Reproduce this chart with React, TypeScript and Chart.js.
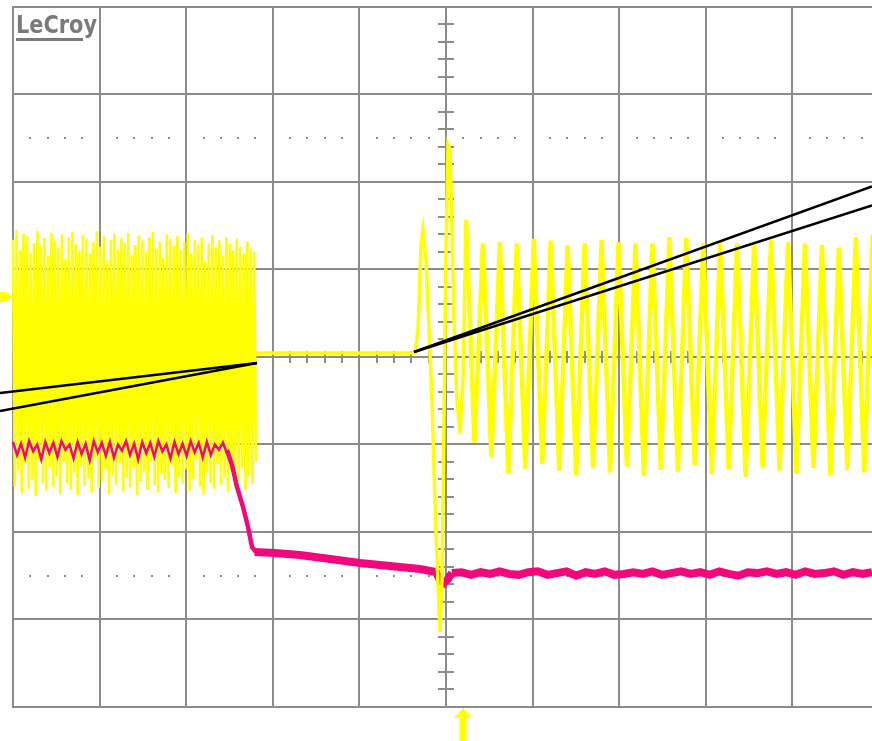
import { useEffect, useRef } from "react";
import { Chart, registerables } from "chart.js";

Chart.register(...registerables);

// ---- axis (divisions) ----
const X_MIN = -0.15;
const X_MAX = 9.919;
const Y_MIN = -4.389;
const Y_MAX = 4.08;
const X_DIVS = [0, 1, 2, 3, 4, 5, 6, 7, 8, 9, 10];
const Y_DIVS = [-4, -3, -2, -1, 0, 1, 2, 3, 4];
const CURSOR_LEVELS = [2.5, -2.5];
const TRIGGER_T = 5.196;
const CH1_MARKER = 0.686;

// ---- CH1 (yellow) before the gap: alternating sample peaks / troughs ----
const LEFT_T_END = 2.806;
const leftHi = [1.34, 1.45, 1.22, 1.41, 1.38, 1.19, 1.30, 1.44, 1.27, 1.36, 1.15, 1.42, 1.33, 1.25, 1.40, 1.12, 1.37, 1.43, 1.29, 1.21, 1.39, 1.35, 1.18, 1.31, 1.44, 1.26, 1.38, 1.10, 1.34, 1.41, 1.23, 1.36, 1.30, 1.42, 1.17, 1.28, 1.39, 1.33, 1.20, 1.37, 1.43, 1.24, 1.32, 1.14, 1.40, 1.35, 1.27, 1.38, 1.22, 1.31, 1.41, 1.19, 1.34, 1.28, 1.36, 1.09, 1.30, 1.39, 1.25, 1.33, 1.16, 1.37, 1.29, 1.21, 1.35, 1.26, 1.18, 1.32, 1.24, 1.20];
const leftLo = [-1.48, -1.30, -1.56, -1.22, -1.51, -1.40, -1.59, -1.18, -1.45, -1.53, -1.27, -1.49, -1.36, -1.57, -1.20, -1.44, -1.52, -1.33, -1.58, -1.25, -1.47, -1.39, -1.55, -1.16, -1.50, -1.42, -1.29, -1.57, -1.35, -1.46, -1.21, -1.54, -1.38, -1.49, -1.26, -1.58, -1.43, -1.31, -1.52, -1.19, -1.47, -1.55, -1.34, -1.41, -1.50, -1.24, -1.56, -1.37, -1.45, -1.28, -1.53, -1.40, -1.17, -1.48, -1.57, -1.32, -1.44, -1.51, -1.23, -1.46, -1.38, -1.54, -1.30, -1.49, -1.42, -1.27, -1.52, -1.36, -1.45, -1.20];

// ---- CH1 flat level and restart transient ----
const flatLevel = 0.046;
const flatEnd = 4.642;
const transientT = [4.677, 4.711, 4.734, 4.769, 4.804, 4.838, 4.861, 4.896, 4.931, 4.954, 4.977, 5.0, 5.023, 5.046, 5.069, 5.092, 5.127, 5.162, 5.196, 5.231];
const transientV = [0.309, 1.28, 1.451, 1.086, 0.309, -0.491, -1.291, -2.32, -3.143, -2.549, -0.72, 1.223, 2.423, 2.366, 1.451, 0.423, -0.491, -0.869, -0.263, 1.566];

// ---- CH1 ringing after the transient ----
const RING_T0 = 5.231;
const RING_PERIOD = 0.1957;
const ringTroughs = [-0.98, -1.15, -1.33, -1.28, -1.22, -1.30, -1.35, -1.27, -1.32, -1.25, -1.36, -1.29, -1.31, -1.24, -1.34, -1.28, -1.37, -1.26, -1.30, -1.33, -1.27, -1.35, -1.29, -1.32, -1.26];
const ringPeaks = [1.30, 1.31, 1.30, 1.35, 1.33, 1.28, 1.30, 1.34, 1.31, 1.30, 1.30, 1.37, 1.36, 1.30, 1.31, 1.30, 1.31, 1.34, 1.31, 1.30, 1.28, 1.25, 1.37, 1.40];

// ---- CH2 (pink) ----
const PINK_LEFT_END = 2.471;
const pinkLeft = [-0.97, -1.12, -0.99, -1.15, -0.96, -1.08, -1.0, -1.17, -0.97, -1.1, -0.98, -1.14, -0.96, -1.06, -1.0, -1.16, -0.97, -1.11, -0.99, -1.18, -0.96, -1.09, -0.98, -1.13, -0.97, -1.15, -1.0, -1.07, -0.96, -1.12, -0.99, -1.17, -0.97, -1.1, -0.98, -1.14, -0.96, -1.08, -1.0, -1.16, -0.97, -1.11, -0.99, -1.13, -0.96, -1.09, -0.98, -1.15, -0.97, -1.12, -1.0, -1.06, -0.98, -1.1];
const pinkDropT = [2.471, 2.529, 2.587, 2.656, 2.714, 2.76, 2.806];
const pinkDropV = [-1.063, -1.234, -1.486, -1.714, -1.943, -2.171, -2.229];
const pinkDecayT = [2.79, 3.025, 3.314, 3.661, 4.007, 4.353, 4.7, 4.885, 4.931, 4.977, 5.023, 5.069];
const pinkDecayV = [-2.229, -2.24, -2.263, -2.309, -2.354, -2.389, -2.423, -2.457, -2.549, -2.583, -2.537, -2.469];
const PINK_RIGHT_START = 5.069;
const pinkRight = [-2.47, -2.46, -2.49, -2.46, -2.48, -2.45, -2.48, -2.49, -2.46, -2.45, -2.49, -2.47, -2.45, -2.50, -2.46, -2.48, -2.45, -2.49, -2.48, -2.46, -2.48, -2.45, -2.49, -2.47, -2.45, -2.48, -2.46, -2.49, -2.45, -2.48, -2.50, -2.46, -2.47, -2.45, -2.48, -2.46, -2.49, -2.45, -2.48, -2.47, -2.45, -2.49, -2.46, -2.48, -2.46];

// ---- zoom marker lines (black) ----
const markLeftEnds = [-0.411, -0.617];
const markLeftJoin = { x: 2.818, y: -0.069 };
const markRightEnds = [1.949, 1.731];
const markRightJoin = { x: 4.63, y: 0.057 };

const YELLOW = "#ffff00";
const PINK = "#f2087c";
const GRID = "#8c8c8c";

type P = { x: number; y: number };

function buildYellowLeft(): P[] {
  const n = leftHi.length * 2 - 1;
  const dt = LEFT_T_END / n;
  const pts: P[] = [];
  for (let i = 0; i < leftHi.length; i++) {
    pts.push({ x: 2 * i * dt, y: leftHi[i] });
    pts.push({ x: (2 * i + 1) * dt, y: leftLo[i] });
  }
  return pts;
}

function buildYellowTransient(): P[] {
  const pts: P[] = [
    { x: LEFT_T_END, y: flatLevel },
    { x: flatEnd, y: flatLevel },
  ];
  transientT.forEach((t, i) => pts.push({ x: t, y: transientV[i] }));
  return pts;
}

function buildYellowRing(): P[] {
  const pts: P[] = [{ x: RING_T0, y: transientV[transientV.length - 1] }];
  for (let k = 0; k < ringTroughs.length; k++) {
    pts.push({ x: RING_T0 + RING_PERIOD * (k + 0.5), y: ringTroughs[k] });
    if (k < ringPeaks.length) pts.push({ x: RING_T0 + RING_PERIOD * (k + 1), y: ringPeaks[k] });
  }
  return pts;
}

function buildPinkLeft(): P[] {
  const dt = PINK_LEFT_END / (pinkLeft.length - 1);
  return pinkLeft.map((v, i) => ({ x: i * dt, y: v }));
}

function buildPinkRight(): P[] {
  const dt = (X_MAX - PINK_RIGHT_START) / (pinkRight.length - 1);
  return pinkRight.map((v, i) => ({ x: PINK_RIGHT_START + i * dt, y: v }));
}

const scopePlugin = {
  id: "scopeScreen",
  beforeDatasetsDraw(chart: any) {
    const { ctx } = chart;
    const xs = chart.scales.x;
    const ys = chart.scales.y;
    ctx.save();
    ctx.fillStyle = "#ffffff";
    ctx.fillRect(0, 0, chart.width, chart.height);
    const top = ys.getPixelForValue(4);
    const bottom = ys.getPixelForValue(-4);
    const left = xs.getPixelForValue(0);
    const right = xs.getPixelForValue(10);
    ctx.strokeStyle = GRID;
    ctx.lineWidth = 2;
    ctx.beginPath();
    X_DIVS.forEach((d) => {
      const px = Math.round(xs.getPixelForValue(d));
      ctx.moveTo(px, top);
      ctx.lineTo(px, bottom);
    });
    Y_DIVS.forEach((d) => {
      const py = Math.round(ys.getPixelForValue(d));
      ctx.moveTo(left - 1, py);
      ctx.lineTo(right, py);
    });
    ctx.stroke();
    // center axis minor ticks
    const cx = Math.round(xs.getPixelForValue(5));
    const cy = Math.round(ys.getPixelForValue(0));
    ctx.beginPath();
    for (let i = -20; i <= 20; i++) {
      const py = Math.round(ys.getPixelForValue(i * 0.2));
      ctx.moveTo(cx - 8, py);
      ctx.lineTo(cx + 8, py);
    }
    for (let i = 1; i < 50; i++) {
      const px = Math.round(xs.getPixelForValue(i * 0.2));
      ctx.moveTo(px, cy - 6);
      ctx.lineTo(px, cy + 6);
    }
    ctx.stroke();
    // dotted cursor levels
    ctx.fillStyle = GRID;
    CURSOR_LEVELS.forEach((lv) => {
      const py = Math.round(ys.getPixelForValue(lv));
      for (let i = 1; i < 50; i++) {
        if (i % 5 === 0) continue;
        const px = Math.round(xs.getPixelForValue(i * 0.2));
        ctx.fillRect(px - 1, py - 1, 2, 2);
      }
    });
    ctx.restore();
  },
  afterDraw(chart: any) {
    const { ctx } = chart;
    const xs = chart.scales.x;
    const ys = chart.scales.y;
    ctx.save();
    // logo
    ctx.fillStyle = "#7a7a7a";
    ctx.font = "bold 24px 'DejaVu Sans'";
    ctx.textBaseline = "alphabetic";
    const w = ctx.measureText("LeCroy").width;
    ctx.translate(16, 33);
    ctx.scale(81 / w, 1);
    ctx.fillText("LeCroy", 0, 0);
    ctx.setTransform(1, 0, 0, 1, 0, 0);
    ctx.fillRect(16, 38, 67, 3);
    // trigger arrow
    const tx = xs.getPixelForValue(TRIGGER_T);
    const tyTop = ys.getPixelForValue(-4) + 1;
    ctx.fillStyle = YELLOW;
    ctx.beginPath();
    ctx.moveTo(tx, tyTop);
    ctx.lineTo(tx + 9, tyTop + 10);
    ctx.lineTo(tx + 3.5, tyTop + 10);
    ctx.lineTo(tx + 3.5, chart.height);
    ctx.lineTo(tx - 3.5, chart.height);
    ctx.lineTo(tx - 3.5, tyTop + 10);
    ctx.lineTo(tx - 9, tyTop + 10);
    ctx.closePath();
    ctx.fill();
    // CH1 marker
    const my = ys.getPixelForValue(CH1_MARKER);
    ctx.beginPath();
    ctx.moveTo(0, my - 5);
    ctx.lineTo(6, my - 5);
    ctx.lineTo(12, my);
    ctx.lineTo(6, my + 5);
    ctx.lineTo(0, my + 5);
    ctx.closePath();
    ctx.fill();
    ctx.restore();
  },
};

export default function App() {
  const ref = useRef<HTMLCanvasElement | null>(null);
  useEffect(() => {
    if (!ref.current) return;
    const line = (data: P[], color: string, width: number) => ({
      data,
      borderColor: color,
      backgroundColor: color,
      borderWidth: width,
      pointRadius: 0,
      tension: 0,
      fill: false,
      clip: false as any,
    });
    const chart = new Chart(ref.current, {
      type: "line",
      data: {
        datasets: [
          line([{ x: X_MIN, y: markLeftEnds[0] }, markLeftJoin], "#000000", 2.5),
          line([{ x: X_MIN, y: markLeftEnds[1] }, markLeftJoin], "#000000", 2.5),
          line([markRightJoin, { x: X_MAX, y: markRightEnds[0] }], "#000000", 2.5),
          line([markRightJoin, { x: X_MAX, y: markRightEnds[1] }], "#000000", 2.5),
          line(buildYellowTransient(), YELLOW, 3.5),
          line(buildYellowRing(), YELLOW, 4.5),
          line(buildPinkRight(), PINK, 8),
          line(pinkDecayT.map((t, i) => ({ x: t, y: pinkDecayV[i] })), PINK, 8),
          line(pinkDropT.map((t, i) => ({ x: t, y: pinkDropV[i] })), PINK, 4.5),
          line(buildPinkLeft(), PINK, 2.5),
          line(buildYellowLeft(), YELLOW, 2.6),
        ] as any,
      },
      options: {
        animation: false,
        responsive: false,
        devicePixelRatio: 1,
        parsing: false,
        events: [],
        layout: { padding: 0 },
        scales: {
          x: { type: "linear", min: X_MIN, max: X_MAX, display: false },
          y: { type: "linear", min: Y_MIN, max: Y_MAX, display: false },
        },
        plugins: { legend: { display: false }, tooltip: { enabled: false } },
      },
      plugins: [scopePlugin as any],
    });
    return () => chart.destroy();
  }, []);
  return (
    <div style={{ position: "fixed", left: 0, top: 0, width: 872, height: 741, background: "#fff" }}>
      <canvas ref={ref} width={872} height={741} style={{ display: "block", width: 872, height: 741 }} />
    </div>
  );
}
